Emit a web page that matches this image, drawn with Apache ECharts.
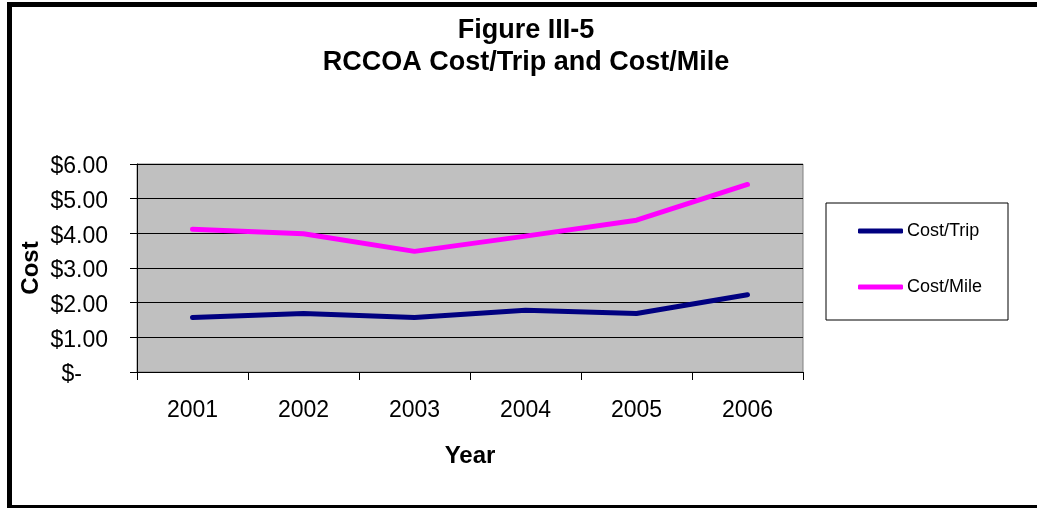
<!DOCTYPE html>
<html>
<head>
<meta charset="utf-8">
<script src="https://cdn.jsdelivr.net/npm/echarts@6/dist/echarts.min.js"></script>
<style>
html,body{margin:0;padding:0;background:#fff;}
#c{width:1037px;height:508px;}
</style>
</head>
<body>
<div id="c"></div>
<script>
const years = ['2001','2002','2003','2004','2005','2006'];
const costPerTrip = [1.57, 1.69, 1.57, 1.78, 1.69, 2.23];
const costPerMile = [4.12, 3.99, 3.48, 3.92, 4.38, 5.41];
const yTicks = [0, 1, 2, 3, 4, 5, 6];

const FONT = '"Liberation Sans", Arial, sans-serif';
const chart = echarts.init(document.getElementById('c'), null, {renderer:'canvas'});
chart.setOption({
  animation: false,
  backgroundColor: '#ffffff',
  textStyle: {fontFamily: FONT},
  title: {
    text: 'Figure III-5\nRCCOA Cost/Trip and Cost/Mile',
    left: 521,
    textAlign: 'center',
    top: 10,
    textStyle: {fontFamily: FONT, fontWeight: 'bold', fontSize: 27, lineHeight: 32, color: '#000'}
  },
  graphic: [{
    type: 'rect',
    shape: {x: 9.5, y: 4.5, width: 1200, height: 503},
    style: {fill: 'none', stroke: '#000', lineWidth: 5},
    silent: true, z: 100
  }],
  legend: {
    orient: 'vertical',
    left: 826, top: 203,
    width: 182,
    padding: [19, 26, 24, 32],
    backgroundColor: '#fff',
    borderColor: '#000',
    borderWidth: 1,
    itemWidth: 45, itemHeight: 5,
    itemGap: 38,
    icon: 'roundRect',
    textStyle: {fontFamily: FONT, fontSize: 18, lineHeight: 18, color: '#000', padding: [0,0,0,-1]},
    data: ['Cost/Trip', 'Cost/Mile']
  },
  grid: {
    left: 137, right: 234, top: 164, bottom: 136,
    show: true, backgroundColor: '#C0C0C0', borderColor: '#808080', borderWidth: 1
  },
  xAxis: {
    type: 'category',
    data: years,
    boundaryGap: true,
    name: 'Year',
    nameLocation: 'middle',
    nameGap: 72,
    nameMoveOverlap: false,
    nameTextStyle: {fontFamily: FONT, fontWeight: 'bold', fontSize: 24, color: '#000'},
    axisLine: {lineStyle: {color: '#000', width: 1}},
    axisTick: {show: true, length: 8, inside: false, lineStyle: {color: '#000'}},
    axisLabel: {fontFamily: FONT, fontSize: 23, color: '#000', margin: 27},
    splitLine: {show: false}
  },
  yAxis: {
    type: 'value',
    min: yTicks[0], max: yTicks[yTicks.length-1], interval: 1,
    name: 'Cost',
    nameLocation: 'middle',
    nameGap: 94,
    nameMoveOverlap: false,
    nameRotate: 90,
    nameTextStyle: {fontFamily: FONT, fontWeight: 'bold', fontSize: 24, color: '#000'},
    axisLine: {show: true, lineStyle: {color: '#000', width: 1}},
    axisTick: {show: true, length: 7, lineStyle: {color: '#000'}},
    axisLabel: {
      fontFamily: FONT, fontSize: 23, color: '#000', margin: 29,
      padding: [6, 0, 0, 0],
      formatter: function(v){ return v === 0 ? '{z|$-}' : '$' + v.toFixed(2); },
      rich: {z: {fontFamily: FONT, fontSize: 23, color: '#000', padding: [0, 26, 0, 0]}}
    },
    splitLine: {show: true, lineStyle: {color: '#000', width: 1}}
  },
  series: [
    {
      name: 'Cost/Trip', type: 'line', data: costPerTrip,
      showSymbol: false, symbol: 'none',
      lineStyle: {color: '#000080', width: 5, cap: 'round', join: 'round'},
      itemStyle: {color: '#000080'}
    },
    {
      name: 'Cost/Mile', type: 'line', data: costPerMile,
      showSymbol: false, symbol: 'none',
      lineStyle: {color: '#FF00FF', width: 5, cap: 'round', join: 'round'},
      itemStyle: {color: '#FF00FF'}
    }
  ]
});
</script>
</body>
</html>
